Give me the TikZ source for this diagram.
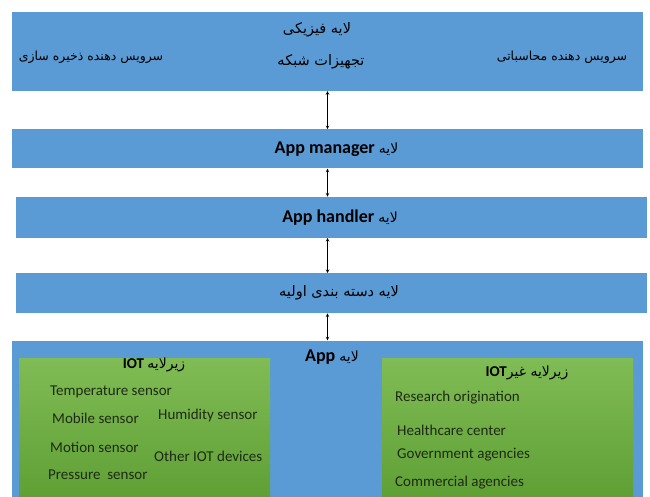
\documentclass[tikz,border=0pt]{standalone}
\usepackage{fontspec}
\setmainfont{Carlito}
\newfontfamily\arabicfont[Script=Arabic]{DejaVu Sans}
\TeXXeTstate=1
\usepackage{tikz}
\usetikzlibrary{arrows,positioning}
\definecolor{layerblue}{HTML}{5B9BD5}
\definecolor{greentop}{HTML}{80BC55}
\definecolor{greenbot}{HTML}{5E9F34}
\definecolor{itemtext}{HTML}{1E2A14}
\newcommand{\fatext}[1]{{\arabicfont\mdseries\fontsize{14}{16}\selectfont\beginR #1\endR}}
\tikzset{
    >=stealth,
    layer/.style={fill=layerblue, inner sep=0pt, minimum width=631pt},
    sublayer/.style={top color=greentop, bottom color=greenbot, inner sep=0pt,
        minimum width=251pt, minimum height=142pt, anchor=north west},
    fa/.style={font=\arabicfont\fontsize{12.5}{15}\selectfont, inner sep=0pt},
    fa big/.style={font=\arabicfont\fontsize{14.5}{17}\selectfont, inner sep=0pt},
    en/.style={font=\fontsize{18}{21}\selectfont\bfseries, inner sep=0pt},
    title/.style={font=\fontsize{15}{18}\selectfont\bfseries, inner sep=0pt},
    item/.style={font=\fontsize{15}{18}\selectfont, text=itemtext, inner sep=0pt, anchor=west}
}

\begin{document}
\begin{tikzpicture}
    \useasboundingbox (0,0) rectangle (650pt,-497pt);
    % layers
    \node[layer, minimum height=79pt] (1) at (327.5pt,-51.5pt) {};
    \node[layer, minimum height=39pt] (2) [below=38pt of 1] {};
    \node[layer, minimum height=41pt, xshift=3.5pt] (3) [below=28pt of 2] {};
    \node[layer, minimum height=40pt] (4) [below=35pt of 3] {};
    \node[layer, minimum height=160pt, xshift=-3.5pt] (5) [below=27pt of 4] {};
    % sub layers
    \node[sublayer] (5a) [below right=18pt and 7pt of 5.north west] {};
    \node[sublayer, anchor=north east] (5b) [below left=18pt and 10pt of 5.north east] {};
    % texts of the layers
    \node[fa big] (1a) at (317pt,-30pt) {\beginR لایه فیزیکی\endR};
    \node[fa big] (1b) at (321pt,-62pt) {\beginR تجهیزات شبکه\endR};
    \node[fa] (1c) at (91pt,-57pt) {\beginR سرویس دهنده ذخیره سازی\endR};
    \node[fa] (1d) at (562pt,-57pt) {\beginR سرویس دهنده محاسباتی\endR};
    \node[en] (2a) at (2) [xshift=9pt] {App manager \fatext{لایه}};
    \node[en] (3a) at (3) [xshift=9pt] {App handler \fatext{لایه}};
    \node[fa big] (4a) at (4) [xshift=8pt] {\beginR لایه دسته بندی اولیه\endR};
    \node[en] (5t) at (332pt,-357pt) {App \fatext{لایه}};
    % IOT
    \node[title] (5a0) at (154pt,-365pt) {IOT \fatext{زیرلایه}};
    \node[item] (5a1) at (50pt,-392pt) {Temperature sensor};
    \node[item] (5a2) at (52pt,-418pt) {Mobile sensor};
    \node[item] (5a3) at (158pt,-415pt) {Humidity sensor};
    \node[item] (5a4) at (50pt,-447pt) {Motion sensor};
    \node[item] (5a5) at (154pt,-456pt) {Other IOT devices};
    \node[item] (5a6) at (48pt,-475pt) {Pressure\ \ sensor};
    % non IOT
    \node[title] (5b0) at (527pt,-373pt) {IOT\fatext{زیرلایه غیر}};
    \node[item] (5b1) at (395pt,-398pt) {Research origination};
    \node[item] (5b2) at (397pt,-430pt) {Healthcare center};
    \node[item] (5b3) at (397pt,-455pt) {Government agencies};
    \node[item] (5b4) at (395pt,-483pt) {Commercial agencies};
    \path[]
        (1.south) edge [<->, semithick] (2.north)
        (2.south) edge [<->, semithick] (2.south |- 3.north)
        (2.south |- 3.south) edge [<->, semithick] (2.south |- 4.north)
        (2.south |- 4.south) edge [<->, semithick] (2.south |- 5.north)
        ;
\end{tikzpicture}
\end{document}
